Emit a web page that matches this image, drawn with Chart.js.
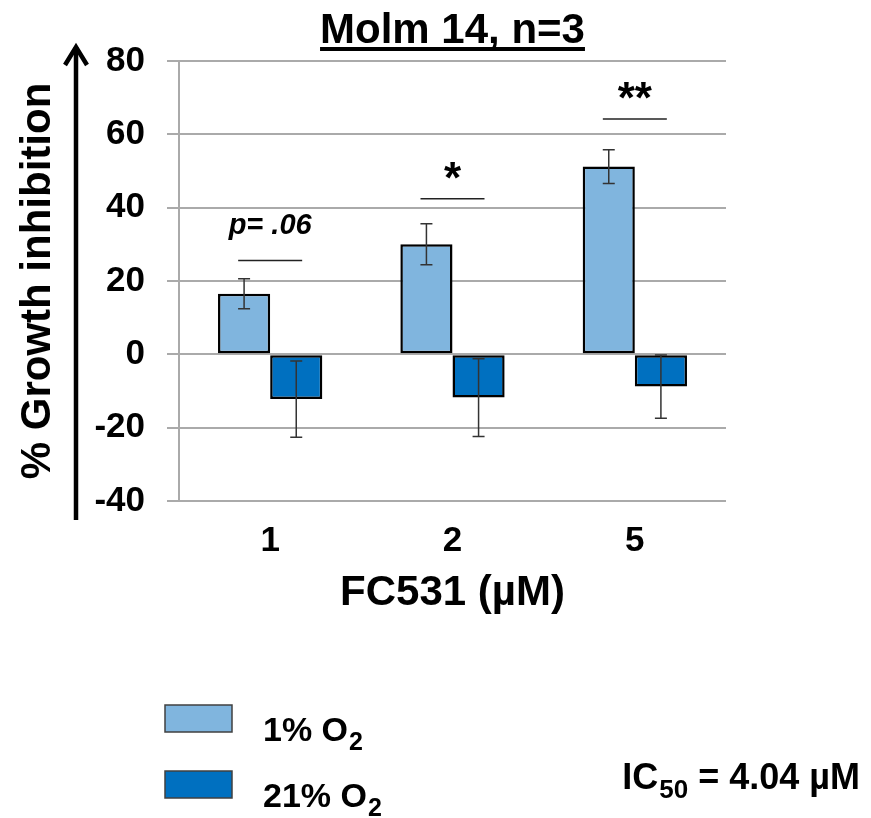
<!DOCTYPE html>
<html>
<head>
<meta charset="utf-8">
<script src="https://cdn.jsdelivr.net/npm/chart.js@4.4.1/dist/chart.umd.min.js"></script>
<style>
  html, body { margin: 0; padding: 0; background: #fff; }
  #wrap { width: 871px; height: 818px; }
</style>
</head>
<body>
<div id="wrap"><canvas id="growthChart" width="871" height="818"></canvas></div>
<script>
// FC531 doses and % growth inhibition (mean +/- SD, n=3)
const doses = ['1', '2', '5'];
const hypoxia = [16.5, 30.0, 51.2];
const hypoxiaErr = [4.1, 5.6, 4.6];
const normoxia = [-12.2, -11.8, -8.8];
const normoxiaErr = [10.4, 10.6, 8.6];

// significance marks above each dose, and the height of their bar (in %)
const sigLabels = ['p= .06', '*', '**'];
const sigLevels = [25.6, 42.4, 64.2];

const yMin = -40, yMax = 80, yStep = 20;

const FONT = '"Liberation Sans", Arial, sans-serif';
const LIGHT = '#80B5DE';
const DARK = '#0070C0';

// draws "base" with a lowered, smaller suffix (O2, IC50)
function textWithSub(ctx, base, sub, x, y, size, subSize, drop) {
  ctx.font = 'bold ' + size + 'px ' + FONT;
  ctx.fillText(base, x, y);
  const w = ctx.measureText(base).width;
  ctx.font = 'bold ' + subSize + 'px ' + FONT;
  ctx.fillText(sub, x + w + 1, y + drop);
  return w + 1 + ctx.measureText(sub).width;
}

const extras = {
  id: 'extras',
  afterDatasetsDraw(chart) {
    const ctx = chart.ctx;
    const y = chart.scales.y;
    const errs = [hypoxiaErr, normoxiaErr];
    ctx.save();
    ctx.strokeStyle = '#333';
    ctx.lineWidth = 1.5;
    chart.data.datasets.forEach((ds, i) => {
      chart.getDatasetMeta(i).data.forEach((bar, j) => {
        const v = ds.data[j], e = errs[i][j];
        const top = y.getPixelForValue(v + e);
        const bot = y.getPixelForValue(v - e);
        ctx.beginPath();
        ctx.moveTo(bar.x, top); ctx.lineTo(bar.x, bot);
        ctx.moveTo(bar.x - 6, top); ctx.lineTo(bar.x + 6, top);
        ctx.moveTo(bar.x - 6, bot); ctx.lineTo(bar.x + 6, bot);
        ctx.stroke();
      });
    });

    // significance bars and labels
    const x = chart.scales.x;
    sigLabels.forEach((lab, j) => {
      const cx = x.getPixelForValue(j);
      const ly = y.getPixelForValue(sigLevels[j]);
      ctx.strokeStyle = '#222';
      ctx.lineWidth = 1.5;
      ctx.beginPath();
      ctx.moveTo(cx - 32, ly); ctx.lineTo(cx + 32, ly);
      ctx.stroke();
      ctx.fillStyle = '#000';
      ctx.font = lab.startsWith('p') ? 'italic bold 29px ' + FONT : 'bold 44px ' + FONT;
      ctx.textAlign = 'center';
      ctx.textBaseline = 'alphabetic';
      const m = ctx.measureText(lab);
      ctx.fillText(lab, cx, ly - 20 - m.actualBoundingBoxDescent);
    });
    ctx.restore();
  },
  afterDraw(chart) {
    const ctx = chart.ctx;
    const area = chart.chartArea;
    ctx.save();
    ctx.fillStyle = '#000';

    // underlined title
    const title = 'Molm 14, n=3';
    ctx.font = 'bold 42px ' + FONT;
    ctx.textAlign = 'center';
    ctx.textBaseline = 'alphabetic';
    const cx = (area.left + area.right) / 2;
    ctx.fillText(title, cx, 43);
    const tw = ctx.measureText(title).width;
    ctx.fillRect(cx - tw / 2, 47, tw, 4);

    // upward arrow beside the y axis title
    ctx.strokeStyle = '#000';
    ctx.lineWidth = 4.5;
    ctx.beginPath();
    ctx.moveTo(76, 520); ctx.lineTo(76, 47);
    ctx.stroke();
    ctx.beginPath();
    ctx.moveTo(65, 65); ctx.lineTo(76, 47); ctx.lineTo(87, 65);
    ctx.stroke();

    // legend
    ctx.textAlign = 'left';
    chart.data.datasets.forEach((ds, i) => {
      const by = 705 + i * 66;
      ctx.fillStyle = ds.backgroundColor;
      ctx.fillRect(165, by, 67, 27);
      ctx.strokeStyle = '#404040';
      ctx.lineWidth = 1.5;
      ctx.strokeRect(165, by, 67, 27);
      ctx.fillStyle = '#000';
      textWithSub(ctx, ds.label.slice(0, -1), ds.label.slice(-1), 263, by + 36, 34, 25, 9);
    });

    // IC50 note, right aligned
    ctx.font = 'bold 36px ' + FONT;
    const w1 = ctx.measureText('IC').width;
    const w3 = ctx.measureText(' = 4.04 µM').width;
    ctx.font = 'bold 26px ' + FONT;
    const w2 = ctx.measureText('50').width;
    let x0 = 860 - (w1 + 1 + w2 + w3);
    const used = textWithSub(ctx, 'IC', '50', x0, 789, 36, 26, 9);
    ctx.font = 'bold 36px ' + FONT;
    ctx.fillText(' = 4.04 µM', x0 + used, 789);
    ctx.restore();
  }
};

const ctx = document.getElementById('growthChart').getContext('2d');
new Chart(ctx, {
  type: 'bar',
  data: {
    labels: doses,
    datasets: [{
      label: '1% O2',
      data: hypoxia,
      backgroundColor: LIGHT,
      borderColor: '#000',
      borderWidth: 2.5,
      borderSkipped: false
    }, {
      label: '21% O2',
      data: normoxia,
      backgroundColor: DARK,
      borderColor: '#000',
      borderWidth: 2.5,
      borderSkipped: false
    }]
  },
  options: {
    responsive: false,
    animation: false,
    layout: { padding: { top: 61, right: 145, bottom: 188, left: 0 } },
    datasets: { bar: { barPercentage: 1, categoryPercentage: 0.572 } },
    plugins: {
      legend: { display: false },
      tooltip: { enabled: false }
    },
    scales: {
      x: {
        grid: { display: false, drawTicks: false },
        border: { display: false },
        ticks: { color: '#000', padding: 19, font: { family: FONT, weight: 'bold', size: 35 } },
        title: {
          display: true,
          text: 'FC531 (µM)',
          color: '#000',
          padding: { top: 0, bottom: 11 },
          font: { family: FONT, weight: 'bold', size: 42 }
        },
        afterFit(scale) { scale.height = 129; }
      },
      y: {
        min: yMin,
        max: yMax,
        grid: { color: '#aaaaaa', lineWidth: 2, tickLength: 12 },
        border: { color: '#aaaaaa', width: 2 },
        ticks: {
          stepSize: yStep,
          color: '#000',
          padding: 22,
          font: { family: FONT, weight: 'bold', size: 35 }
        },
        title: {
          display: true,
          text: '% Growth inhibition',
          color: '#000',
          padding: { top: 13, bottom: 0 },
          font: { family: FONT, weight: 'bold', size: 42 }
        },
        afterFit(scale) { scale.width = 179; }
      }
    }
  },
  plugins: [extras]
});
</script>
</body>
</html>
